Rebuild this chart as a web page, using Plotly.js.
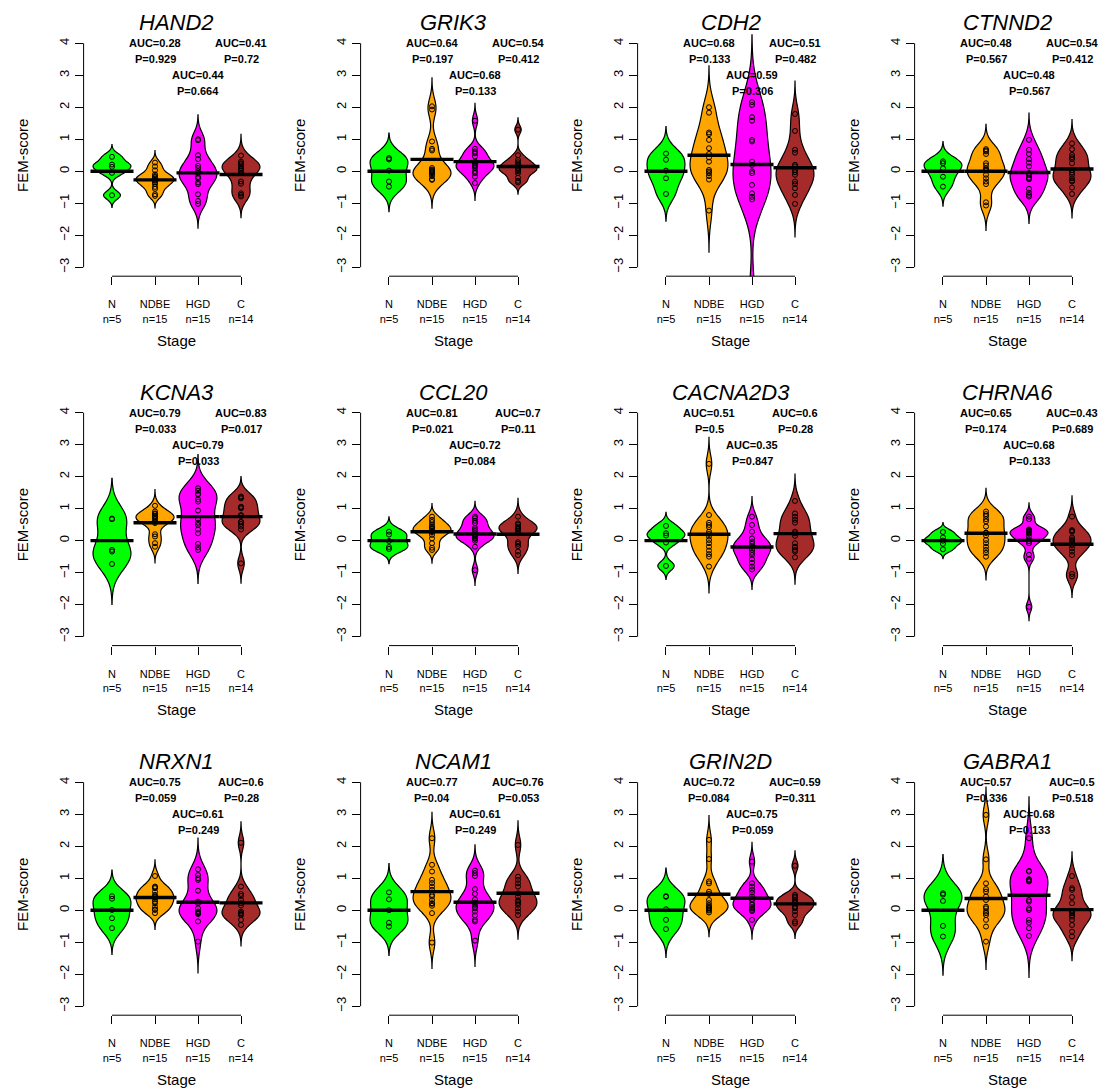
<!DOCTYPE html>
<html>
<head>
<meta charset="utf-8">
<script src="https://cdn.plot.ly/plotly-3.0.1.min.js"></script>
<style>html,body{margin:0;padding:0;background:#fff;}</style>
</head>
<body>
<div id="chart" style="width:1102px;height:1091px;"></div>
<script>
// ---------------- DATA (FEM-scores per stage: N, NDBE, HGD, C) ----------------
const stages = ['N', 'NDBE', 'HGD', 'C'];
const genes = ['HAND2', 'GRIK3', 'CDH2', 'CTNND2', 'KCNA3', 'CCL20', 'CACNA2D3', 'CHRNA6', 'NRXN1', 'NCAM1', 'GRIN2D', 'GABRA1'];

const HAND2 = [
  [0.45, 0.21, 0.14, -0.05, -0.75],
  [0.27, 0.15, 0.03, -0.1, -0.15, -0.18, -0.22, -0.27, -0.3, -0.35, -0.4, -0.49, -0.55, -0.72, -0.77],
  [1.0, 0.97, 0.5, 0.38, 0.17, 0.1, 0.0, -0.05, -0.18, -0.22, -0.35, -0.4, -0.72, -0.93, -1.02],
  [0.49, 0.3, 0.25, 0.22, 0.15, 0.1, 0.06, 0.02, -0.06, -0.32, -0.39, -0.69, -0.74, -0.79]
];
const GRIK3 = [
  [0.41, 0.37, 0.02, -0.32, -0.48],
  [2.03, 1.93, 0.93, 0.7, 0.65, 0.1, 0.05, 0.02, 0.0, -0.03, -0.06, -0.1, -0.15, -0.25, -0.27],
  [1.58, 0.7, 0.62, 0.56, 0.46, 0.3, 0.25, 0.2, 0.18, 0.15, 0.1, 0.0, -0.06, -0.17, -0.37],
  [1.3, 0.5, 0.35, 0.28, 0.22, 0.18, 0.1, 0.05, 0.04, 0.0, -0.06, -0.2, -0.3, -0.35]
];
const CDH2 = [
  [0.55, 0.36, 0.02, -0.22, -0.71],
  [2.0, 1.83, 1.21, 1.16, 0.98, 0.72, 0.54, 0.43, 0.3, 0.04, -0.01, -0.06, -0.15, -0.26, -1.23],
  [2.16, 2.07, 1.69, 1.58, 0.98, 0.93, 0.3, 0.2, 0.0, -0.06, -0.43, -0.69, -0.8, -0.88, -3.9],
  [1.79, 1.26, 0.67, 0.58, 0.2, 0.15, 0.04, -0.03, -0.11, -0.32, -0.4, -0.53, -0.74, -1.02]
];
const CTNND2 = [
  [0.31, 0.25, 0.09, -0.17, -0.48],
  [0.69, 0.65, 0.62, 0.54, 0.25, 0.18, 0.09, 0.05, 0.02, -0.11, -0.22, -0.32, -0.4, -0.97, -1.07],
  [0.98, 0.67, 0.54, 0.38, 0.27, 0.15, -0.06, -0.11, -0.2, -0.22, -0.25, -0.55, -0.67, -0.74, -0.79],
  [0.87, 0.69, 0.51, 0.44, 0.38, 0.25, 0.04, -0.04, -0.11, -0.22, -0.29, -0.32, -0.51, -0.71]
];
const KCNA3 = [
  [0.69, 0.67, -0.29, -0.34, -0.73],
  [1.09, 0.91, 0.85, 0.83, 0.78, 0.75, 0.72, 0.67, 0.6, 0.59, 0.55, 0.2, 0.13, -0.08, -0.19],
  [1.64, 1.56, 1.46, 1.44, 1.29, 1.22, 0.94, 0.67, 0.56, 0.49, 0.35, 0.23, -0.1, -0.21, -0.29],
  [1.38, 1.35, 1.32, 1.06, 1.04, 1.01, 0.8, 0.77, 0.59, 0.58, 0.52, 0.44, 0.35, -0.71]
];
const CCL20 = [
  [0.28, 0.19, -0.01, -0.2, -0.26],
  [0.75, 0.65, 0.58, 0.5, 0.45, 0.4, 0.36, 0.3, 0.28, 0.27, 0.18, 0.07, -0.08, -0.22, -0.29],
  [0.75, 0.7, 0.62, 0.55, 0.4, 0.35, 0.3, 0.18, 0.16, 0.12, 0.07, 0.06, 0.0, -0.19, -0.92],
  [0.75, 0.54, 0.5, 0.44, 0.4, 0.37, 0.37, 0.31, 0.23, -0.05, -0.1, -0.17, -0.34, -0.45]
];
const CACNA2D3 = [
  [0.46, 0.23, 0.16, -0.06, -0.79],
  [2.4, 0.8, 0.56, 0.49, 0.42, 0.28, 0.21, 0.13, 0.02, -0.08, -0.19, -0.31, -0.42, -0.5, -0.81],
  [0.75, 0.49, 0.28, 0.07, -0.03, -0.1, -0.17, -0.19, -0.29, -0.38, -0.45, -0.58, -0.69, -0.81, -0.9],
  [1.24, 0.85, 0.75, 0.65, 0.56, 0.28, 0.23, 0.15, -0.08, -0.19, -0.21, -0.29, -0.34, -0.52]
];
const CHRNA6 = [
  [0.27, 0.1, 0.0, -0.1, -0.27],
  [0.91, 0.83, 0.77, 0.67, 0.6, 0.44, 0.25, 0.24, 0.16, 0.02, -0.08, -0.19, -0.29, -0.38, -0.5],
  [0.75, 0.67, 0.35, 0.33, 0.31, 0.28, 0.25, 0.22, 0.13, 0.04, -0.02, -0.08, -0.44, -0.57, -2.07],
  [0.75, 0.33, 0.3, 0.28, 0.1, 0.04, -0.01, -0.06, -0.14, -0.24, -0.34, -0.45, -1.04, -1.12]
];
const NRXN1 = [
  [0.44, 0.36, 0.01, -0.25, -0.56],
  [1.07, 0.74, 0.72, 0.69, 0.58, 0.48, 0.43, 0.4, 0.34, 0.27, 0.22, 0.11, 0.03, 0.01, -0.09],
  [1.28, 1.1, 1.0, 0.95, 0.61, 0.27, 0.22, 0.06, -0.04, -0.06, -0.09, -0.1, -0.12, -0.35, -0.98],
  [2.11, 0.74, 0.51, 0.45, 0.32, 0.22, 0.15, -0.04, -0.09, -0.1, -0.14, -0.15, -0.3, -0.46]
];
const NCAM1 = [
  [0.56, 0.34, 0.0, -0.39, -0.51],
  [2.25, 1.42, 1.21, 0.95, 0.85, 0.74, 0.64, 0.48, 0.43, 0.32, 0.22, 0.2, 0.14, -0.09, -1.01],
  [1.24, 1.16, 1.07, 0.66, 0.51, 0.34, 0.24, 0.17, 0.1, 0.06, -0.04, -0.16, -0.3, -0.35, -0.95],
  [2.04, 1.05, 0.95, 0.84, 0.74, 0.53, 0.43, 0.31, 0.27, 0.22, 0.17, 0.06, -0.04, -0.15]
];
const GRIN2D = [
  [0.44, 0.42, 0.03, -0.3, -0.59],
  [2.2, 1.6, 0.9, 0.84, 0.58, 0.51, 0.32, 0.22, 0.15, 0.11, 0.07, 0.06, 0.02, -0.01, -0.07],
  [1.52, 0.84, 0.74, 0.64, 0.55, 0.43, 0.35, 0.32, 0.2, 0.17, 0.1, 0.06, 0.01, -0.03, -0.3],
  [1.39, 0.48, 0.43, 0.4, 0.32, 0.25, 0.22, 0.11, 0.09, 0.06, -0.04, -0.15, -0.35, -0.41]
];
const GABRA1 = [
  [0.53, 0.49, 0.29, -0.49, -0.82],
  [2.98, 1.59, 0.84, 0.66, 0.58, 0.43, 0.32, 0.11, 0.06, -0.04, -0.09, -0.15, -0.3, -0.51, -0.98],
  [2.25, 1.23, 1.21, 0.97, 0.95, 0.93, 0.9, 0.32, 0.27, 0.06, 0.01, -0.3, -0.39, -0.56, -0.8],
  [1.07, 0.69, 0.64, 0.41, 0.22, -0.02, -0.04, -0.09, -0.15, -0.2, -0.3, -0.46, -0.67, -0.82]
];

// AUC / P-values versus N (for NDBE, HGD, C)
const aucNDBE = [0.28, 0.64, 0.68, 0.48, 0.79, 0.81, 0.51, 0.65, 0.75, 0.77, 0.72, 0.57];
const pNDBE   = [0.929, 0.197, 0.133, 0.567, 0.033, 0.021, 0.5, 0.174, 0.059, 0.04, 0.084, 0.336];
const aucHGD  = [0.44, 0.68, 0.59, 0.48, 0.79, 0.72, 0.35, 0.68, 0.61, 0.61, 0.75, 0.68];
const pHGD    = [0.664, 0.133, 0.306, 0.567, 0.033, 0.084, 0.847, 0.133, 0.249, 0.249, 0.059, 0.133];
const aucC    = [0.41, 0.54, 0.51, 0.54, 0.83, 0.7, 0.6, 0.43, 0.6, 0.76, 0.59, 0.5];
const pC      = [0.72, 0.412, 0.482, 0.412, 0.017, 0.11, 0.28, 0.689, 0.28, 0.053, 0.311, 0.518];

const yTicks = [-3, -2, -1, 0, 1, 2, 3, 4];

// ---------------- STYLE / LAYOUT ----------------
const geneData = [HAND2, GRIK3, CDH2, CTNND2, KCNA3, CCL20, CACNA2D3, CHRNA6, NRXN1, NCAM1, GRIN2D, GABRA1];
const stageColors = ['#00ff00', '#ffa500', '#ff00ff', '#a52a2a'];
const FONT = 'Liberation Sans, Arial, Helvetica, sans-serif';
const FW = 1102, FH = 1091;
const colLeft = [83.6, 360.6, 637.6, 914.6];
const rowTop = [34.3, 403.7, 773.3];
const PW = 185.8, PH = 241.9;

function mean(a) { return a.reduce((s, v) => s + v, 0) / a.length; }
function q7(s, p) { const h = (s.length - 1) * p, lo = Math.floor(h); return lo + 1 < s.length ? s[lo] + (h - lo) * (s[lo + 1] - s[lo]) : s[lo]; }
function bwNrd0(a) {
  const s = a.slice().sort((x, y) => x - y), m = mean(a);
  const sd = Math.sqrt(a.reduce((t, v) => t + (v - m) * (v - m), 0) / (a.length - 1));
  const iqr = (q7(s, 0.75) - q7(s, 0.25)) / 1.34;
  let lo = Math.min(sd, iqr); if (!(lo > 0)) lo = sd || 0.1;
  return 0.9 * lo * Math.pow(a.length, -0.2);
}

const traces = [];
const annotations = [];
const shapes = [];
const layout = {
  width: FW, height: FH, autosize: false,
  margin: {l: 0, r: 0, t: 0, b: 0},
  paper_bgcolor: '#fff', plot_bgcolor: '#fff',
  showlegend: false, violinmode: 'overlay', hovermode: false,
  font: {family: FONT, color: '#000'}
};

genes.forEach((g, k) => {
  const r = Math.floor(k / 4), c = k % 4;
  const sfx = k === 0 ? '' : String(k + 1);
  const xid = 'x' + sfx, yid = 'y' + sfx;
  const L = colLeft[c], T = rowTop[r];
  const groups = geneData[k];

  layout['xaxis' + sfx] = {
    domain: [L / FW, (L + PW) / FW], range: [0.34, 4.66], type: 'linear', anchor: yid,
    tickmode: 'array', tickvals: [1, 2, 3, 4],
    ticktext: stages.map((s, j) => s + '<br>n=' + groups[j].length),
    ticks: 'outside', ticklen: 8, tickwidth: 1, tickcolor: '#000',
    showline: false, showgrid: false, zeroline: false, fixedrange: true,
    tickfont: {family: FONT, size: 11, color: '#000'}, ticklabelstandoff: 10,
    title: {text: 'Stage', font: {family: FONT, size: 15, color: '#000'}, standoff: 11}
  };
  layout['yaxis' + sfx] = {
    domain: [1 - (T + PH) / FH, 1 - T / FH], range: [-3.28, 4.28], type: 'linear', anchor: xid,
    tickmode: 'array', tickvals: yTicks, tickangle: -90,
    ticks: 'outside', ticklen: 8, tickwidth: 1, tickcolor: '#000',
    showline: false, showgrid: false, zeroline: false, fixedrange: true,
    tickfont: {family: FONT, size: 13, color: '#000'},
    title: {text: 'FEM-score', font: {family: FONT, size: 15, color: '#000'}, standoff: 25}
  };

  // axis lines spanning only the tick range (R style)
  shapes.push({type: 'line', xref: xid + ' domain', yref: yid, x0: 0, x1: 0, y0: -3, y1: 4, line: {color: '#000', width: 1}});
  shapes.push({type: 'line', xref: xid, yref: yid + ' domain', x0: 1, x1: 4, y0: 0, y1: 0, line: {color: '#000', width: 1}});

  groups.forEach((vals, j) => {
    const bw = bwNrd0(vals);
    const mn = Math.min(...vals), mx = Math.max(...vals);
    traces.push({
      type: 'violin', xaxis: xid, yaxis: yid, x0: j + 1, y: vals, name: stages[j],
      orientation: 'v', width: 0.88, scalemode: 'width',
      bandwidth: bw, spanmode: 'manual', span: [mn - 3 * bw, mx + 3 * bw],
      fillcolor: stageColors[j], line: {color: '#000', width: 1.2},
      points: 'all', pointpos: 0, jitter: 0,
      marker: {symbol: 'circle-open', size: 5, color: '#000', line: {width: 1, color: '#000'}},
      box: {visible: false}, meanline: {visible: false}, hoverinfo: 'skip'
    });
  });
  groups.forEach((vals, j) => {
    const m = mean(vals);
    traces.push({
      type: 'scatter', mode: 'lines', xaxis: xid, yaxis: yid,
      x: [j + 0.5, j + 1.5], y: [m, m], line: {color: '#000', width: 3.4}, hoverinfo: 'skip'
    });
  });

  // gene title
  annotations.push({
    xref: 'paper', yref: 'paper', x: (L + PW / 2) / FW, y: 1 - (T - 11.6) / FH,
    xanchor: 'center', yanchor: 'middle', showarrow: false,
    text: '<i>' + g + '</i>', font: {family: FONT, size: 22, color: '#000'}
  });
  // AUC / P annotations
  const stat = [[2, 4.0, aucNDBE[k], pNDBE[k]], [3, 3.0, aucHGD[k], pHGD[k]], [4, 4.0, aucC[k], pC[k]]];
  stat.forEach(([xp, yp, a, p]) => {
    annotations.push({xref: xid, yref: yid, x: xp, y: yp, showarrow: false, xanchor: 'center', yanchor: 'middle',
      text: '<b>AUC=' + a + '</b>', font: {family: FONT, size: 11, color: '#000'}});
    annotations.push({xref: xid, yref: yid, x: xp, y: yp - 0.5, showarrow: false, xanchor: 'center', yanchor: 'middle',
      text: '<b>P=' + p + '</b>', font: {family: FONT, size: 11, color: '#000'}});
  });
});

layout.annotations = annotations;
layout.shapes = shapes;

Plotly.newPlot('chart', traces, layout, {displayModeBar: false, staticPlot: true});
</script>
</body>
</html>
